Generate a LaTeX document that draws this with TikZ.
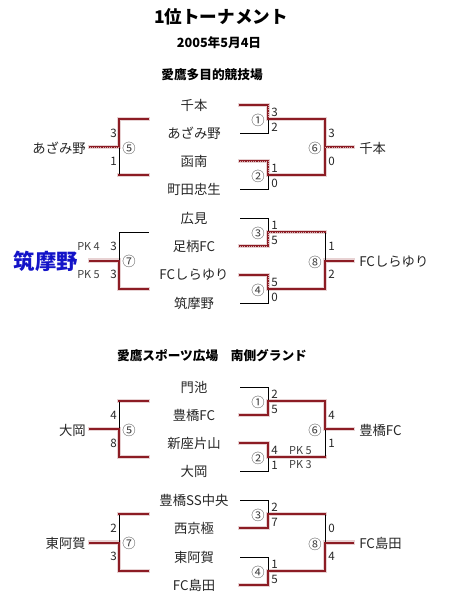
\documentclass[tikz,border=0pt]{standalone}
\usepackage{fontspec}
\setmainfont{Noto Sans CJK JP}
\usetikzlibrary{calc}
\pgfdeclarelayer{glow}
\pgfdeclarelayer{blk}
\pgfsetlayers{glow,blk,main}
\definecolor{wr}{RGB}{140,28,36}
\definecolor{bluetxt}{RGB}{20,20,200}
\tikzset{
  glowline/.style={draw=wr!20, line width=3.4pt, line cap=rect},
  winline/.style={draw=wr, line width=1.5pt, line cap=rect},
  dotline/.style={draw=wr!35, line width=0.6pt, dash pattern=on 0.75pt off 0.9pt},
  loseline/.style={draw=black, line width=0.75pt, line cap=rect},
  team/.style={font=\fontsize{10}{12}\selectfont, text=black!85, inner sep=0pt},
  score/.style={font=\fontsize{8.7}{10}\selectfont, text=black!85, inner sep=0pt},
  mnum/.style={font=\fontsize{10}{12}\selectfont, text=black!75, inner sep=0pt},
  pk/.style={font=\fontsize{8.2}{10}\selectfont, text=black!75, inner sep=0pt},
  head/.style={font=\bfseries\fontsize{9.5}{12}\selectfont, inner sep=0pt},
}
\newcommand\segW[2]{\begin{pgfonlayer}{glow}\draw[glowline] (#1)--(#2);\end{pgfonlayer}\draw[winline] (#1)--(#2);}
\newcommand\segD[2]{\begin{pgfonlayer}{glow}\draw[glowline] (#1)--(#2);\end{pgfonlayer}\draw[winline] (#1)--(#2);\draw[dotline] (#1)--(#2);}
\newcommand\segK[2]{\begin{pgfonlayer}{blk}\draw[loseline] (#1)--(#2);\end{pgfonlayer}}
\newcommand\blockcoords[5]{%
  \coordinate (#1Aa1) at (240,#2); \coordinate (#1Aj1) at (268,#2);
  \coordinate (#1Aa2) at (240,#3); \coordinate (#1Aj2) at (268,#3);
  \coordinate (#1Ba1) at (240,#4); \coordinate (#1Bj1) at (268,#4);
  \coordinate (#1Ba2) at (240,#5); \coordinate (#1Bj2) at (268,#5);
  \coordinate (#1Am) at (268,{(#2+#3)/2});
  \coordinate (#1Bm) at (268,{(#4+#5)/2});
  \coordinate (#1Fa) at (325,{(#2+#3)/2});
  \coordinate (#1Fb) at (325,{(#4+#5)/2});
  \coordinate (#1Fm) at (325,{(#2+#3+#4+#5)/4});
  \coordinate (#1Fw) at (353,{(#2+#3+#4+#5)/4});
  \coordinate (#1La) at (148,{(#2+#3)/2}); \coordinate (#1Lj1) at (119,{(#2+#3)/2});
  \coordinate (#1Lb) at (148,{(#4+#5)/2}); \coordinate (#1Lj2) at (119,{(#4+#5)/2});
  \coordinate (#1Lm) at (119,{(#2+#3+#4+#5)/4});
  \coordinate (#1Lw) at (90,{(#2+#3+#4+#5)/4});
}
% scores: prefix, A top, A bottom, B top, B bottom, F top, F bottom, L top, L bottom
\newcommand\blockscores[9]{%
  \node[score, anchor=west] (#1sA1) at ([shift={(3,-6.5)}]#1Am) {#2};
  \node[score, anchor=west] (#1sA2) at ([shift={(3,8)}]#1Am) {#3};
  \node[score, anchor=west] (#1sB1) at ([shift={(3,-6.5)}]#1Bm) {#4};
  \node[score, anchor=west] (#1sB2) at ([shift={(3,8)}]#1Bm) {#5};
  \node[score, anchor=west] (#1sF1) at ($(#1Fa)!0.5!(#1Fm)+(3,0)$) {#6};
  \node[score, anchor=west] (#1sF2) at ($(#1Fm)!0.5!(#1Fb)+(3,0)$) {#7};
  \node[score, anchor=east] (#1sL1) at ($(#1Lj1)!0.5!(#1Lm)+(-2,0)$) {#8};
  \node[score, anchor=east] (#1sL2) at ($(#1Lm)!0.5!(#1Lj2)+(-2,0)$) {#9};
}
\newcommand\blocklabels[5]{%
  \node[mnum, anchor=east] (#1mA) at ([shift={(-3,1)}]#1Am) {#2};
  \node[mnum, anchor=east] (#1mB) at ([shift={(-3,1)}]#1Bm) {#3};
  \node[mnum, anchor=east] (#1mF) at ([shift={(-3,1.5)}]#1Fm) {#4};
  \node[mnum, anchor=west] (#1mL) at ([shift={(3,1)}]#1Lm) {#5};
}
\begin{document}
\begin{tikzpicture}[x=0.75pt,y=-0.75pt]
\useasboundingbox (0,0) rectangle (450,600);

% headings
\node[font=\bfseries\fontsize{13.2}{15}\selectfont, inner sep=0pt] (title) at (221,17) {1位トーナメント};
\node[font=\bfseries\fontsize{9.5}{12}\selectfont, inner sep=0pt] (date) at (219,43) {2005年5月4日};
\node[head] (h1) at (212,75) {愛鷹多目的競技場};
\node[head] (h2) at (212,356) {愛鷹スポーツ広場　南側グランド};

% coordinates
\blockcoords{a}{105}{133}{161}{189}
\blockcoords{b}{218}{246}{275}{303}
\blockcoords{c}{387}{415}{443}{471}
\blockcoords{d}{500}{528}{557}{585}

% ---------- block a ----------
\segW{aAa1}{aAj1} \segD{aAj1}{aAm} \segK{aAm}{aAj2} \segK{aAa2}{aAj2} \segW{aAm}{aFa}
\segD{aBa1}{aBj1} \segD{aBj1}{aBm} \segK{aBm}{aBj2} \segK{aBa2}{aBj2} \segW{aBm}{aFb}
\segW{aFa}{aFm} \segW{aFm}{aFb} \segD{aFm}{aFw}
\segW{aLa}{aLj1} \segW{aLj1}{aLm} \segK{aLm}{aLj2} \segW{aLb}{aLj2} \segD{aLm}{aLw}

% ---------- block b ----------
\segK{bAa1}{bAj1} \segK{bAj1}{bAm} \segD{bAm}{bAj2} \segD{bAa2}{bAj2} \segD{bAm}{bFa}
\segW{bBa1}{bBj1} \segD{bBj1}{bBm} \segK{bBm}{bBj2} \segK{bBa2}{bBj2} \segW{bBm}{bFb}
\segK{bFa}{bFm} \segW{bFm}{bFb} \segW{bFm}{bFw}
\segK{bLa}{bLj1} \segK{bLj1}{bLm} \segW{bLm}{bLj2} \segW{bLb}{bLj2} \segW{bLm}{bLw}

% ---------- block c ----------
\segK{cAa1}{cAj1} \segK{cAj1}{cAm} \segW{cAm}{cAj2} \segW{cAa2}{cAj2} \segW{cAm}{cFa}
\segW{cBa1}{cBj1} \segW{cBj1}{cBm} \segK{cBm}{cBj2} \segK{cBa2}{cBj2} \segW{cBm}{cFb}
\segW{cFa}{cFm} \segK{cFm}{cFb} \segW{cFm}{cFw}
\segW{cLa}{cLj1} \segK{cLj1}{cLm} \segW{cLm}{cLj2} \segW{cLb}{cLj2} \segW{cLm}{cLw}

% ---------- block d ----------
\segK{dAa1}{dAj1} \segK{dAj1}{dAm} \segW{dAm}{dAj2} \segW{dAa2}{dAj2} \segW{dAm}{dFa}
\segK{dBa1}{dBj1} \segK{dBj1}{dBm} \segW{dBm}{dBj2} \segW{dBa2}{dBj2} \segW{dBm}{dFb}
\segK{dFa}{dFm} \segW{dFm}{dFb} \segW{dFm}{dFw}
\segW{dLa}{dLj1} \segK{dLj1}{dLm} \segW{dLm}{dLj2} \segW{dLb}{dLj2} \segW{dLm}{dLw}

% team names
\node[team] (at1) at (194,105) {千本};
\node[team] (at2) at (194,133) {あざみ野};
\node[team] (at3) at (194,161) {函南};
\node[team] (at4) at (194,189) {町田忠生};
\node[team] (bt1) at (194,218) {広見};
\node[team] (bt2) at (194,246) {足柄FC};
\node[team] (bt3) at (194,275) {FCしらゆり};
\node[team] (bt4) at (194,303) {筑摩野};
\node[team] (ct1) at (194,387) {門池};
\node[team] (ct2) at (194,415) {豊橋FC};
\node[team] (ct3) at (194,443) {新座片山};
\node[team] (ct4) at (194,471) {大岡};
\node[team] (dt1) at (194,500) {豊橋SS中央};
\node[team] (dt2) at (194,528) {西京極};
\node[team] (dt3) at (194,557) {東阿賀};
\node[team] (dt4) at (194,585) {FC島田};

% winners
\node[team, anchor=east] (awl) at ([shift={(-4,1)}]aLw) {あざみ野};
\node[team, anchor=west] (awr) at ([shift={(6,1)}]aFw) {千本};
\node[font=\bfseries\fontsize{16}{18}\selectfont, text=bluetxt, inner sep=0pt, anchor=east] (bwl) at ([shift={(-12,1)}]bLw) {筑摩野};
\node[team, anchor=west] (bwr) at ([shift={(6,1)}]bFw) {FCしらゆり};
\node[team, anchor=east] (cwl) at ([shift={(-4,1)}]cLw) {大岡};
\node[team, anchor=west] (cwr) at ([shift={(6,1)}]cFw) {豊橋FC};
\node[team, anchor=east] (dwl) at ([shift={(-4,1)}]dLw) {東阿賀};
\node[team, anchor=west] (dwr) at ([shift={(6,1)}]dFw) {FC島田};

% scores and match numbers
\blockscores{a}{3}{2}{1}{0}{3}{0}{3}{1}
\blocklabels{a}{①}{②}{⑥}{⑤}
\blockscores{b}{1}{5}{5}{0}{1}{2}{3}{3}
\blocklabels{b}{③}{④}{⑧}{⑦}
\blockscores{c}{2}{5}{4}{1}{4}{1}{4}{8}
\blocklabels{c}{①}{②}{⑥}{⑤}
\blockscores{d}{2}{7}{1}{5}{0}{4}{2}{3}
\blocklabels{d}{③}{④}{⑧}{⑦}

% PK labels
\node[pk, anchor=east] (bpk1) at ([shift={(-10,0)}]bsL1.west) {PK 4};
\node[pk, anchor=east] (bpk2) at ([shift={(-10,0)}]bsL2.west) {PK 5};
\node[pk, anchor=west] (cpk1) at ([shift={(11,0)}]csB1.east) {PK 5};
\node[pk, anchor=west] (cpk2) at ([shift={(11,0)}]csB2.east) {PK 3};
\end{tikzpicture}
\end{document}
